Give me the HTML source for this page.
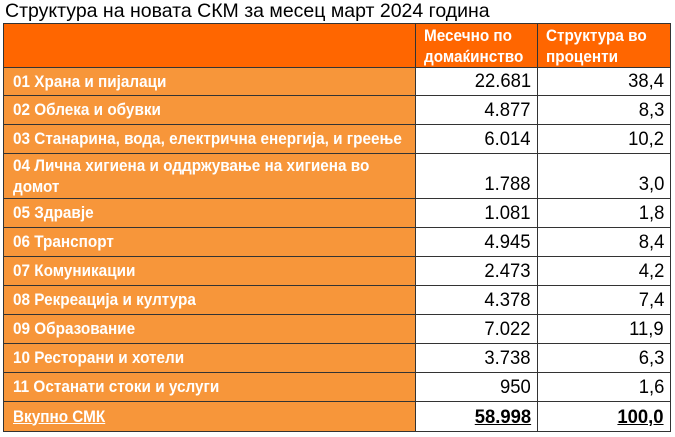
<!DOCTYPE html>
<html><head><meta charset="utf-8"><style>
body{margin:0;width:675px;height:437px;background:#fff;position:relative;overflow:hidden;font-family:"Liberation Sans",sans-serif}
.t{position:absolute;left:5px;top:-1px;font-size:19.5px;color:#000;white-space:nowrap;line-height:24px}
.c{position:absolute;box-sizing:border-box;border:1px solid #333;white-space:nowrap;overflow:hidden}
.l{background:#F7963A;color:#fff;font-weight:bold;font-size:17px}
.h{background:#FF6600;color:#fff;font-weight:bold;font-size:17px}
.n{background:#fff;color:#000;font-size:19px}
.s{position:absolute;transform:scaleX(.9);white-space:nowrap}
.n .s{transform:scaleX(.97)}
.sl{transform-origin:left}
.sr{transform-origin:right;right:6px}
</style></head><body>
<div class="t">Структура на новата СКМ за месец март 2024 година</div>
<div class="c h" style="left:3px;top:23px;width:413px;height:45px"></div>
<div class="c h" style="left:415px;top:23px;width:123px;height:45px"><span class="s sl" style="left:8px;top:1px;line-height:21px">Месечно по<br>домаќинство</span></div>
<div class="c h" style="left:537px;top:23px;width:134px;height:45px"><span class="s sl" style="left:8px;top:1px;line-height:21px">Структура во<br>проценти</span></div>
<div id="rows"></div>
<script>
var R=[["01 Храна и пијалаци","22.681","38,4",67,95],["02 Облека и обувки","4.877","8,3",95,124],["03 Станарина, вода, електрична енергија, и греење","6.014","10,2",124,153],["04 Лична хигиена и оддржување на хигиена во<br>домот","1.788","3,0",153,198],["05 Здравје","1.081","1,8",198,227],["06 Транспорт","4.945","8,4",227,256],["07 Комуникации","2.473","4,2",256,285],["08 Рекреација и култура","4.378","7,4",285,314],["09 Образование","7.022","11,9",314,343],["10 Ресторани и хотели","3.738","6,3",343,372],["11 Останати стоки и услуги","950","1,6",372,401],["<u>Вкупно СМК</u>","<b><u>58.998</u></b>","<b><u>100,0</u></b>",401,431]];
var h="";R.forEach(function(r){var H=r[4]-r[3]+1,tb=H-24;
h+='<div class="c l" style="left:3px;top:'+r[3]+'px;width:413px;height:'+H+'px"><span class="s sl" style="left:9px;'+(H>35?'top:1px;line-height:21px':'top:'+(tb/2)+'px;line-height:22px')+'">'+r[0]+'</span></div>';
h+='<div class="c n" style="left:415px;top:'+r[3]+'px;width:123px;height:'+H+'px"><span class="s sr" style="bottom:2px;line-height:22px">'+r[1]+'</span></div>';
h+='<div class="c n" style="left:537px;top:'+r[3]+'px;width:134px;height:'+H+'px"><span class="s sr" style="bottom:2px;line-height:22px">'+r[2]+'</span></div>';});
document.getElementById("rows").innerHTML=h;
</script>
</body></html>
